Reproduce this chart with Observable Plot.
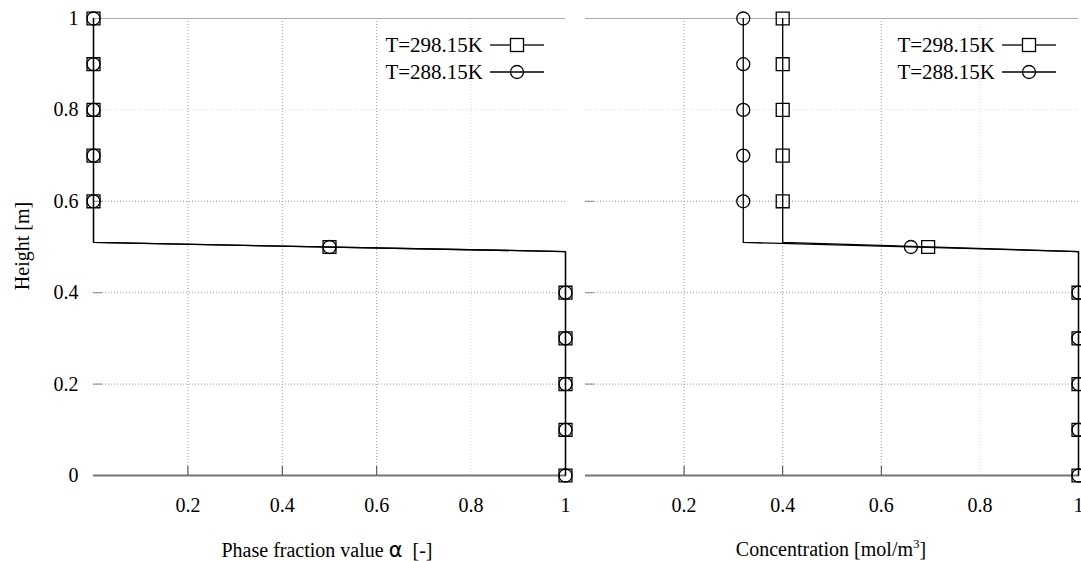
<!DOCTYPE html>
<html>
<head>
<meta charset="utf-8">
<script src="https://cdn.jsdelivr.net/npm/d3@7"></script>
<script src="https://cdn.jsdelivr.net/npm/@observablehq/plot@0.6"></script>
<style>
  html, body { margin: 0; padding: 0; background: #fff; }
  #wrap { position: relative; width: 1081px; height: 561px; overflow: hidden; font-family: "Liberation Serif", "DejaVu Serif", serif; color: #000; }
  #wrap svg, #wrap svg text { font-family: "Liberation Serif", serif !important; font-size: 20px !important; }
  #left, #right { position: absolute; top: 0; }
  #left { left: 0; }
  #right { left: 575px; }
  .lab { position: absolute; font-size: 20px; white-space: pre; line-height: 1; }
  .leg { position: absolute; display: flex; align-items: center; font-size: 21px; line-height: 1; white-space: nowrap; }
  .leg span { text-align: right; }
</style>
</head>
<body>
<div id="wrap">
  <div id="left"></div>
  <div id="right"></div>
</div>
<script>
// ---- data ----
const markerHeights = [1, 0.9, 0.8, 0.7, 0.6, 0.5, 0.4, 0.3, 0.2, 0.1, 0];
const alpha298 = [0, 0, 0, 0, 0, 0.5, 1, 1, 1, 1, 1];
const alpha288 = [0, 0, 0, 0, 0, 0.5, 1, 1, 1, 1, 1];
const conc298 = [0.4, 0.4, 0.4, 0.4, 0.4, 0.695, 1, 1, 1, 1, 1];
const conc288 = [0.32, 0.32, 0.32, 0.32, 0.32, 0.66, 1, 1, 1, 1, 1];

const profileHeights = [1, 0.51, 0.49, 0];
const alphaProfile298 = [0, 0, 1, 1];
const alphaProfile288 = [0, 0, 1, 1];
const concProfile298 = [0.4, 0.4, 1, 1];
const concProfile288 = [0.32, 0.32, 1, 1];

const seriesNames = ["T=298.15K", "T=288.15K"];
const xTicks = [0.2, 0.4, 0.6, 0.8, 1];
const yTicks = [0, 0.2, 0.4, 0.6, 0.8, 1];
const strongGrid = [0.2, 0.4, 0.6];
const faintGrid = [0.8];

const xLabelLeft = "Phase fraction value \u03B1  [-]";
const yLabel = "Height [m]";

// ---- build tables ----
const pts = (xs) => xs.map((x, i) => ({x, y: markerHeights[i]}));
const prof = (xs) => xs.map((x, i) => ({x, y: profileHeights[i]}));

const fmt = d => String(d);
const font = {fontFamily: "Liberation Serif", fontSize: 20};

function panel({width, marginLeft, marginRight, markers298, markers288, line298, line288, showY}) {
  const marks = [
    Plot.gridX(faintGrid, {stroke: "#ddd", strokeOpacity: 1, strokeDasharray: "1,2"}),
    Plot.gridY(faintGrid, {stroke: "#ddd", strokeOpacity: 1, strokeDasharray: "1,2"}),
    Plot.gridX(strongGrid, {stroke: "#999", strokeOpacity: 1, strokeDasharray: "1,2"}),
    Plot.gridY(strongGrid, {stroke: "#999", strokeOpacity: 1, strokeDasharray: "1,2"}),
    Plot.ruleY([1], {stroke: "#aaa", strokeWidth: 1.2}),
    Plot.ruleY([0], {stroke: "#777", strokeWidth: 2}),
    Plot.axisX(xTicks, {tickSize: 0, tickPadding: 22, tickFormat: fmt, label: null, ...font}),
    Plot.axisX(strongGrid, {tickSize: -9, tickPadding: 0, tickFormat: () => "", stroke: "#444", label: null}),
    Plot.axisY(strongGrid, {tickSize: -9, tickPadding: 0, tickFormat: () => "", stroke: "#888", label: null}),
    Plot.line(line298, {x: "x", y: "y", stroke: "black", strokeWidth: 1.3}),
    Plot.line(line288, {x: "x", y: "y", stroke: "black", strokeWidth: 1.3}),
    Plot.dot(markers298, {x: "x", y: "y", symbol: "square", r: 7.3, stroke: "black", fill: "none", strokeWidth: 1.3}),
    Plot.dot(markers288, {x: "x", y: "y", symbol: "circle", r: 6.5, stroke: "black", fill: "none", strokeWidth: 1.3})
  ];
  if (showY) marks.push(Plot.axisY(yTicks, {tickSize: 0, tickPadding: 15, tickFormat: fmt, label: null, ...font}));
  return Plot.plot({
    width, height: 561,
    marginLeft, marginRight, marginTop: 18, marginBottom: 86,
    x: {domain: [0, 1]},
    y: {domain: [0, 1]},
    style: {background: "transparent", fontFamily: "Liberation Serif", fontSize: "20px", color: "#000", overflow: "hidden"},
    marks
  });
}

document.getElementById("left").append(panel({
  width: 575, marginLeft: 93, marginRight: 10,
  markers298: pts(alpha298), markers288: pts(alpha288),
  line298: prof(alphaProfile298), line288: prof(alphaProfile288), showY: true
}));
document.getElementById("right").append(panel({
  width: 506, marginLeft: 10, marginRight: 3,
  markers298: pts(conc298), markers288: pts(conc288),
  line298: prof(concProfile298), line288: prof(concProfile288), showY: false
}));

// ---- text labels ----
const wrap = document.getElementById("wrap");
function addLabel(html, cx, cy, rotate) {
  const d = document.createElement("div");
  d.className = "lab";
  d.innerHTML = html;
  d.style.left = cx + "px";
  d.style.top = cy + "px";
  d.style.transform = "translate(-50%,-50%)" + (rotate ? " rotate(-90deg)" : "");
  wrap.append(d);
}
addLabel(yLabel, 22, 246, true);
addLabel(xLabelLeft.replace("\u03B1", '<span style="font-family:\'DejaVu Sans\',sans-serif;font-size:21px">\u03B1</span>'), 327, 550, false);
addLabel("Concentration [mol/m<sup style=\"font-size:13px;vertical-align:8px;line-height:0\">3</sup>]", 831, 549, false);

// ---- legends ----
function sample(symbol) {
  const m = symbol === "square"
    ? '<rect x="20.5" y="0.5" width="13" height="13" fill="none" stroke="black" stroke-width="1.3"/>'
    : '<circle cx="27" cy="7" r="6.5" fill="none" stroke="black" stroke-width="1.3"/>';
  const line = symbol === "square"
    ? '<line x1="0" y1="7" x2="20.5" y2="7" stroke="black" stroke-width="1.3"/><line x1="33.5" y1="7" x2="54" y2="7" stroke="black" stroke-width="1.3"/>'
    : '<line x1="0" y1="7" x2="54" y2="7" stroke="black" stroke-width="1.3"/>';
  return `<svg width="54" height="14" style="margin-left:7px;overflow:visible">${line}${m}</svg>`;
}
function addLegend(textRight, rows) {
  rows.forEach((r) => {
    const d = document.createElement("div");
    d.className = "leg";
    d.innerHTML = `<span>${r.name}</span>${sample(r.symbol)}`;
    d.style.right = (1081 - textRight - 61) + "px";
    d.style.top = (r.cy - 10) + "px";
    d.style.height = "20px";
    wrap.append(d);
  });
}
addLegend(483, [{name: seriesNames[0], symbol: "square", cy: 45}, {name: seriesNames[1], symbol: "circle", cy: 72}]);
addLegend(995, [{name: seriesNames[0], symbol: "square", cy: 45}, {name: seriesNames[1], symbol: "circle", cy: 72}]);
</script>
</body>
</html>
